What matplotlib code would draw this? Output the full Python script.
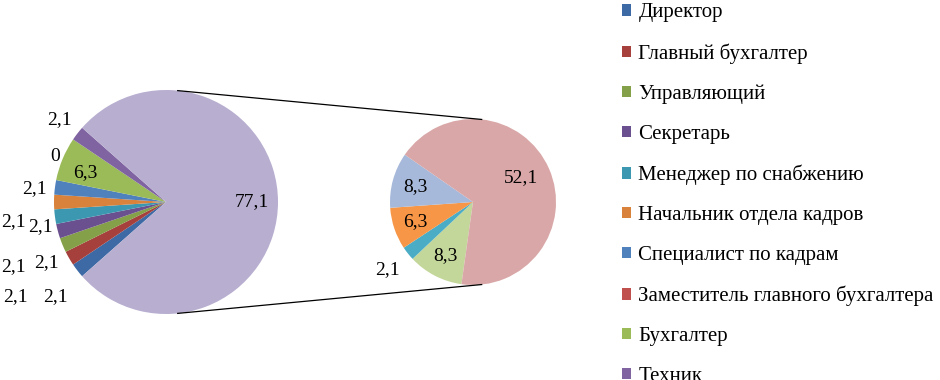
import numpy as np
import matplotlib.pyplot as plt

plt.rcParams['font.family'] = ['Liberation Serif', 'DejaVu Serif']
plt.rcParams['font.size'] = 14

# data
categories = ['Директор', 'Главный бухгалтер', 'Управляющий', 'Секретарь',
              'Менеджер по снабжению', 'Начальник отдела кадров',
              'Специалист по кадрам', 'Заместитель главного бухгалтера',
              'Бухгалтер', 'Техник']
main_values = [2.1, 2.1, 2.1, 2.1, 2.1, 2.1, 2.1, 0, 6.3, 2.1]
other_value = 77.1
sub_values = [8.3, 2.1, 6.3, 8.3, 52.1]

main_colors = ['#3D6AA4', '#A5403D', '#84A048', '#6B5090', '#3C98B0',
               '#D9823B', '#4F81BD', '#C0504D', '#9BBB59', '#8064A2']
other_color = '#B8AED0'
sub_colors = ['#C4D79B', '#4BACC6', '#F79646', '#A7B9DA', '#D9A7A7']

# label placement (radius factor, angle nudge in degrees)
main_label_pos = [(1.30, 2.8), (1.59, 1.8), (1.20, 4.4), (1.48, 7.9),
                  (1.14, 3.5), (1.375, 7.4), (1.18, 1.6), (1.07, -11.1),
                  (0.77, 2.7), (1.20, 0.0), (0.77, 0.0)]
sub_label_pos = [(0.73, 0.0), (1.31, 0.0), (0.73, 0.0), (0.72, 0.0),
                 (0.65, 3.5)]


def fmt(v):
    return '{:g}'.format(v).replace('.', ',')


fig = plt.figure(figsize=(9.4, 3.8), dpi=100)
ax = fig.add_axes([0, 0, 1, 1])
ax.set_xlim(0, 940)
ax.set_ylim(0, 380)
ax.set_aspect('equal')
ax.axis('off')

c1, r1 = (166, 178), 112
c2, r2 = (473, 178), 83

vals1 = main_values + [other_value]
small_span = sum(main_values) / sum(vals1) * 360
w1, _ = ax.pie(vals1, colors=main_colors + [other_color],
               startangle=180 + small_span / 2, counterclock=False,
               center=c1, radius=r1, wedgeprops=dict(linewidth=0))
w2, _ = ax.pie(sub_values, colors=sub_colors, startangle=262,
               counterclock=False, center=c2, radius=r2,
               wedgeprops=dict(linewidth=0))
ax.set_xlim(0, 940)
ax.set_ylim(0, 380)

# value labels
for w, v, (f, da) in zip(w1, vals1, main_label_pos):
    a = np.deg2rad((w.theta1 + w.theta2) / 2 + da)
    ax.text(c1[0] + f * r1 * np.cos(a), c1[1] + f * r1 * np.sin(a), fmt(v),
            ha='center', va='center')
for w, v, (f, da) in zip(w2, sub_values, sub_label_pos):
    a = np.deg2rad((w.theta1 + w.theta2) / 2 + da)
    ax.text(c2[0] + f * r2 * np.cos(a), c2[1] + f * r2 * np.sin(a), fmt(v),
            ha='center', va='center')

# connector lines
for ang in (84, -84):
    a = np.deg2rad(ang)
    ax.plot([c1[0] + r1 * np.cos(a), c2[0] + r2 * np.cos(a)],
            [c1[1] + r1 * np.sin(a), c2[1] + r2 * np.sin(a)],
            color='black', lw=0.9)

# legend runs past the bottom edge, as in the original
ax.legend(w1[:10], categories, loc='upper left', fontsize=15,
          bbox_to_anchor=(622, 376.5), bbox_transform=ax.transData,
          frameon=False, borderpad=0, borderaxespad=0,
          handlelength=0.45, handleheight=0.45, handletextpad=0.34,
          labelspacing=1.0)

fig.savefig('out.png', dpi=100)
